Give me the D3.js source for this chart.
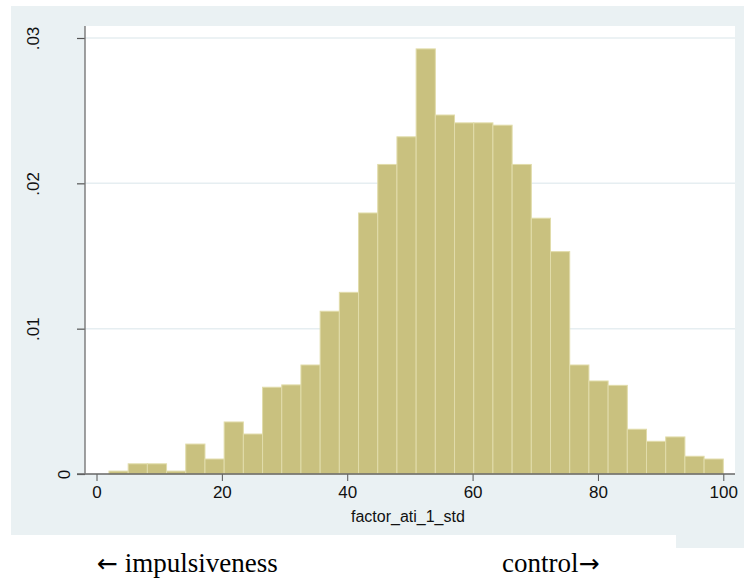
<!DOCTYPE html>
<html>
<head>
<meta charset="utf-8">
<script src="https://cdn.jsdelivr.net/npm/d3@7"></script>
<style>
  html, body { margin: 0; padding: 0; background: #ffffff; }
  svg { display: block; }
</style>
</head>
<body>
<svg id="chart" width="744" height="583"></svg>
<script>
// ---- data ----
const binStart = 1.99;
const binWidth = 3.0628;
const densities = [
  0.0002, 0.0007, 0.0007, 0.0002, 0.00206, 0.00103, 0.00358, 0.00275,
  0.00597, 0.00613, 0.0075, 0.0112, 0.0125, 0.01796, 0.0213, 0.0232,
  0.02925, 0.0247, 0.02416, 0.02416, 0.0240, 0.0213, 0.0176, 0.0153,
  0.0075, 0.0064, 0.0061, 0.00308, 0.00225, 0.00255, 0.00122, 0.00103
];
const xTicks = [0, 20, 40, 60, 80, 100];
const yTicks = [0, 0.01, 0.02, 0.03];
const yTickLabels = ["0", ".01", ".02", ".03"];
const xTitle = "factor_ati_1_std";
const leftArrow = "\u2190", leftWord = " impulsiveness";
const rightWord = "control", rightArrow = "\u2192";

// ---- layout ----
const svg = d3.select("#chart");
const plot = { left: 85, right: 735, top: 26, bottom: 474 };
const x = d3.scaleLinear().domain([0, 100]).range([96.5, 723.3]);
const y = d3.scaleLinear().domain([0, 0.03]).range([474, 38]);

const bins = densities.map((d, i) => ({ x0: binStart + i * binWidth, x1: binStart + (i + 1) * binWidth, d }));

// outer graph region
svg.append("rect").attr("x", 11).attr("y", 6).attr("width", 733).attr("height", 542).attr("fill", "#eaf1f3");
// white note box covering lower-left
svg.append("rect").attr("x", 0).attr("y", 535).attr("width", 676).attr("height", 48).attr("fill", "#ffffff");

// plot region
svg.append("rect").attr("x", plot.left).attr("y", plot.top)
  .attr("width", plot.right - plot.left).attr("height", plot.bottom - plot.top).attr("fill", "#ffffff");

// gridlines
svg.append("g").selectAll("line").data(yTicks.filter(t => t > 0)).join("line")
  .attr("x1", plot.left).attr("x2", plot.right)
  .attr("y1", d => y(d)).attr("y2", d => y(d))
  .attr("stroke", "#e6eef1").attr("stroke-width", 1.5);

// bars
svg.append("g").selectAll("rect").data(bins).join("rect")
  .attr("x", d => x(d.x0)).attr("width", d => x(d.x1) - x(d.x0))
  .attr("y", d => y(d.d)).attr("height", d => y(0) - y(d.d))
  .attr("fill", "#c9c17f").attr("stroke", "#e1dcaa").attr("stroke-width", 1);

// x axis
const xAxis = svg.append("g").attr("transform", `translate(0,${plot.bottom})`)
  .call(d3.axisBottom(x).tickValues(xTicks).tickSize(7).tickPadding(5).tickFormat(d3.format("d")));
xAxis.select(".domain").remove();
xAxis.selectAll(".tick line").attr("stroke", "#555").attr("stroke-width", 1);
xAxis.selectAll(".tick text").attr("font-family", "Liberation Sans, Arial, sans-serif")
  .attr("font-size", 17).attr("fill", "#111");

// y axis
const yAxis = svg.append("g").attr("transform", `translate(${plot.left},0)`)
  .call(d3.axisLeft(y).tickValues(yTicks).tickSize(8).tickFormat((d, i) => yTickLabels[i]));
yAxis.select(".domain").remove();
yAxis.selectAll(".tick line").attr("stroke", "#555").attr("stroke-width", 1.2);
yAxis.selectAll(".tick text").remove();
yAxis.selectAll(".tick").append("text")
  .attr("transform", (d) => `translate(${d === 0 ? 70 - plot.left : 39 - plot.left},0) rotate(-90)`)
  .attr("text-anchor", "middle")
  .attr("font-family", "Liberation Sans, Arial, sans-serif")
  .attr("font-size", 17).attr("fill", "#111")
  .text((d, i) => yTickLabels[i]);

// axis lines
svg.append("line").attr("x1", 77).attr("x2", plot.right).attr("y1", plot.bottom).attr("y2", plot.bottom)
  .attr("stroke", "#666").attr("stroke-width", 1.4);
svg.append("line").attr("x1", plot.left).attr("x2", plot.left).attr("y1", plot.top).attr("y2", plot.bottom)
  .attr("stroke", "#777").attr("stroke-width", 1.4);

// x title
svg.append("text").attr("x", x(50) - 2).attr("y", 522).attr("text-anchor", "middle")
  .attr("font-family", "Liberation Sans, Arial, sans-serif").attr("font-size", 16)
  .attr("fill", "#111").text(xTitle);

// notes below
const serif = "Liberation Serif, Times New Roman, serif";
const arrowFont = "DejaVu Sans, sans-serif";
const lt = svg.append("text").attr("x", 97).attr("y", 572).attr("fill", "#000");
lt.append("tspan").attr("font-family", arrowFont).attr("font-size", 25).text(leftArrow);
lt.append("tspan").attr("font-family", serif).attr("font-size", 27).text(leftWord);
const rt = svg.append("text").attr("x", 502).attr("y", 572).attr("fill", "#000");
rt.append("tspan").attr("font-family", serif).attr("font-size", 27).text(rightWord);
rt.append("tspan").attr("font-family", arrowFont).attr("font-size", 25).text(rightArrow);
</script>
</body>
</html>
